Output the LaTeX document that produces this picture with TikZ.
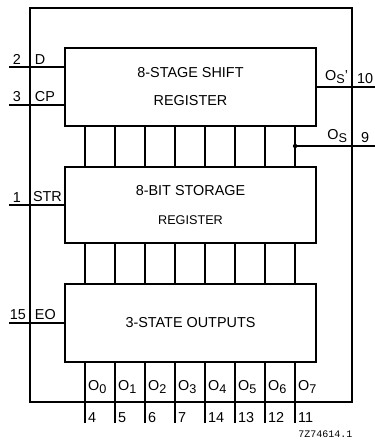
\documentclass[tikz,border=0pt]{standalone}
\usepackage{fontspec}
\setmainfont{Liberation Sans}
\setmonofont{Liberation Mono}
\usetikzlibrary{calc,positioning}

% subscript in the datasheet manner
\newcommand{\pinsub}[1]{\raisebox{-2.6pt}{\fontsize{9.5}{10}\selectfont #1}}

\begin{document}
\begin{tikzpicture}[
  x=0.75pt, y=-0.75pt,
  line width=1pt,
  blk/.style={draw, line width=1.3pt, minimum width=188.25pt, minimum height=58.5pt,
              align=center, inner sep=0pt, font=\fontsize{10.8}{12}\selectfont},
  lbl/.style={font=\fontsize{10.8}{12}\selectfont, inner sep=1pt},
]
\useasboundingbox (0,0) rectangle (375,443);

% ---- package outline ----
\node[draw, line width=1.3pt, minimum width=241.5pt, minimum height=295.5pt] (chip) at (191,205) {};

% ---- blocks ----
\node[blk] (shift) at (190.5,87) {8-STAGE SHIFT\\[9pt]REGISTER};
\node[blk, minimum height=57pt] (store) at (190.5,205) {8-BIT STORAGE\\[10pt]{\fontsize{9.5}{11}\selectfont REGISTER}};
\node[blk] (outs) at (190.5,323) {3-STATE OUTPUTS};

% ---- left pins ----
\coordinate (pD)   at (9,67);
\coordinate (pCP)  at (9,105);
\coordinate (pSTR) at (9,205);
\coordinate (pEO)  at (9,323);
\draw (pD)   -- (pD -| shift.west);
\draw (pCP)  -- (pCP -| shift.west);
\draw (pSTR) -- (pSTR -| store.west);
\draw (pEO)  -- (pEO -| outs.west);
\node[lbl, anchor=south] (nD)   at (17,66)  {2};
\node[lbl, anchor=south] (nCP)  at (17,104) {3};
\node[lbl, anchor=south] (nSTR) at (17,204) {1};
\node[lbl, anchor=south] (nEO)  at (18,322) {15};
\node[lbl, anchor=south west] (tD)   at (33,66)  {D};
\node[lbl, anchor=south west] (tCP)  at (33,104) {CP};
\node[lbl, anchor=south west] (tSTR) at (31,204) {STR};
\node[lbl, anchor=south west] (tEO)  at (33,322) {EO};

% ---- parallel lines between blocks ----
\foreach \i in {0,...,7}{
  \draw ($(shift.south west)+(21+30*\i,0)$) coordinate (bt\i) -- (bt\i |- store.north);
  \draw ($(store.south west)+(21+30*\i,0)$) coordinate (sb\i) -- (sb\i |- outs.north);
}

% ---- serial outputs ----
\coordinate (pQs') at (375,87);
\coordinate (pQs)  at (375,146);
\coordinate (tap)  at (bt7 |- pQs);
\draw (shift.east) -- (pQs');
\draw (tap) -- (pQs);
\fill (tap) circle (2.2);
\node[lbl, anchor=south east] (tQs') at (350,86)  {O\pinsub{S}’};
\node[lbl, anchor=south east] (tQs)  at (349,145) {O\pinsub{S}};
\node[lbl, anchor=south west] (nQs') at (355,86)  {10};
\node[lbl, anchor=south west] (nQs)  at (359,145) {9};

% ---- parallel outputs ----
\foreach \i/\n in {0/4,1/5,2/6,3/7,4/14,5/13,6/12,7/11}{
  \draw ($(outs.south west)+(21+30*\i,0)$) coordinate (ot\i) -- ++(0,60) coordinate (oe\i);
  \node[lbl, anchor=west] (tO\i) at ($(ot\i)+(1,24)$) {O\pinsub{\i}};
  \node[lbl, anchor=west] (nO\i) at ($(ot\i)+(1,55)$) {\n};
}

% ---- drawing code ----
\node[font=\ttfamily\fontsize{7.5}{9}\selectfont, anchor=east, inner sep=0pt] (code) at (353,434) {7Z74614.1};

\end{tikzpicture}
\end{document}
